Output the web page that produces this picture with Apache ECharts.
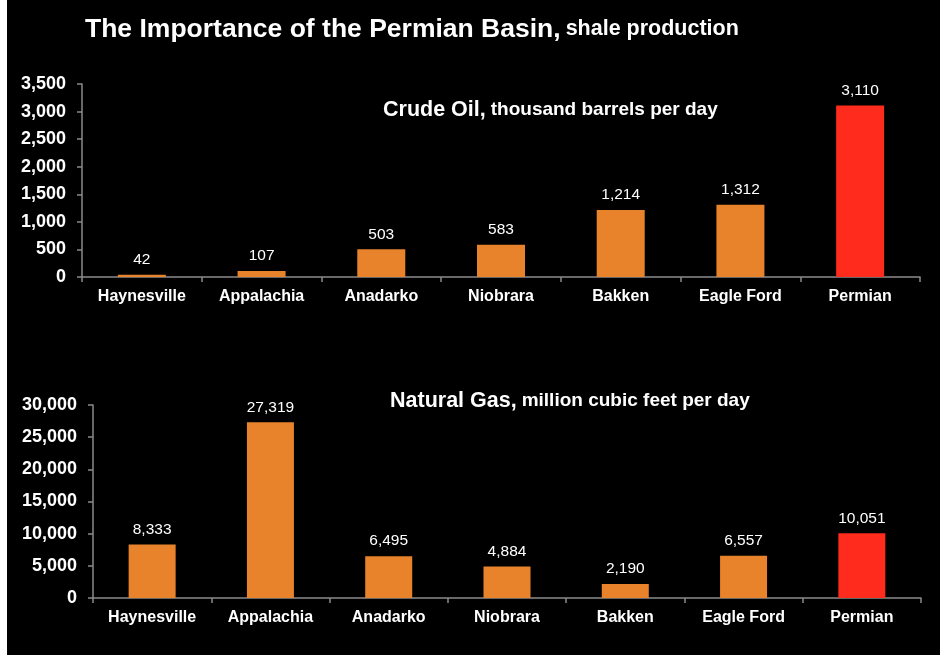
<!DOCTYPE html>
<html>
<head>
<meta charset="utf-8">
<script src="https://cdn.jsdelivr.net/npm/echarts@6/dist/echarts.min.js"></script>
<style>
html,body{margin:0;padding:0;background:#000;}
#c{width:941px;height:655px;}
</style>
</head>
<body>
<div id="c"></div>
<script>
const categories = ['Haynesville','Appalachia','Anadarko','Niobrara','Bakken','Eagle Ford','Permian'];
const oilValues = [42, 107, 503, 583, 1214, 1312, 3110];
const gasValues = [8333, 27319, 6495, 4884, 2190, 6557, 10051];
const highlight = 'Permian';
const ORANGE = '#E9832B';
const RED = '#FF2B1C';
const FONT = 'Liberation Sans, Arial, sans-serif';

function fmt(v){ return Number(v).toLocaleString('en-US'); }
function barData(vals){
  return vals.map((v,i)=>({value:v,itemStyle:{color: categories[i]===highlight?RED:ORANGE}}));
}
const axisLineStyle = {color:'#8a8a8a', width:1.5};

const chart = echarts.init(document.getElementById('c'));
chart.setOption({
  backgroundColor:'#000',
  animation:false,
  title:[
    {left:80, top:11, text:'{a|The Importance of the Permian Basin,} {b|shale production}',
     textStyle:{rich:{a:{fontFamily:FONT,fontWeight:'bold',fontSize:26.5,color:'#fff'},
                      b:{fontFamily:FONT,fontWeight:'bold',fontSize:21.5,color:'#fff'}}}},
    {left:378, top:94, text:'{a|Crude Oil,} {b|thousand barrels per day}',
     textStyle:{rich:{a:{fontFamily:FONT,fontWeight:'bold',fontSize:21.5,color:'#fff'},
                      b:{fontFamily:FONT,fontWeight:'bold',fontSize:19,color:'#fff'}}}},
    {left:385, top:385, text:'{a|Natural Gas,} {b|million cubic feet per day}',
     textStyle:{rich:{a:{fontFamily:FONT,fontWeight:'bold',fontSize:21.5,color:'#fff'},
                      b:{fontFamily:FONT,fontWeight:'bold',fontSize:19,color:'#fff'}}}}
  ],
  graphic:[
    {type:'rect',left:0,top:0,shape:{width:7,height:655},style:{fill:'#fff'},z:100},
    {type:'rect',left:940,top:0,shape:{width:1,height:655},style:{fill:'#fff'},z:100}
  ],
  grid:[
    {left:82, right:21, top:84, height:193},
    {left:93, right:20, top:405, height:193}
  ],
  xAxis:[0,1].map(i=>({
    type:'category', gridIndex:i, data:categories,
    axisLine:{lineStyle:axisLineStyle},
    axisTick:{show:true, length:5, lineStyle:axisLineStyle, alignWithLabel:false},
    axisLabel:{color:'#fff', fontFamily:FONT, fontWeight:'bold', fontSize:16, margin:12, interval:0}
  })),
  yAxis:[
    {type:'value', gridIndex:0, min:0, max:3500, interval:500},
    {type:'value', gridIndex:1, min:0, max:30000, interval:5000}
  ].map(a=>Object.assign(a,{
    splitLine:{show:false},
    axisLine:{show:true, lineStyle:axisLineStyle},
    axisTick:{show:true, length:5, lineStyle:axisLineStyle},
    axisLabel:{color:'#fff', fontFamily:FONT, fontWeight:'bold', fontSize:18, margin:16, formatter:fmt}
  })),
  series:[
    {type:'bar', xAxisIndex:0, yAxisIndex:0, data:barData(oilValues), barWidth:48,
     label:{show:true, position:'top', distance:7, color:'#fff', fontFamily:FONT, fontSize:15.5, formatter:p=>fmt(p.value)}},
    {type:'bar', xAxisIndex:1, yAxisIndex:1, data:barData(gasValues), barWidth:47,
     label:{show:true, position:'top', distance:7, color:'#fff', fontFamily:FONT, fontSize:15.5, formatter:p=>fmt(p.value)}}
  ]
});
</script>
</body>
</html>
